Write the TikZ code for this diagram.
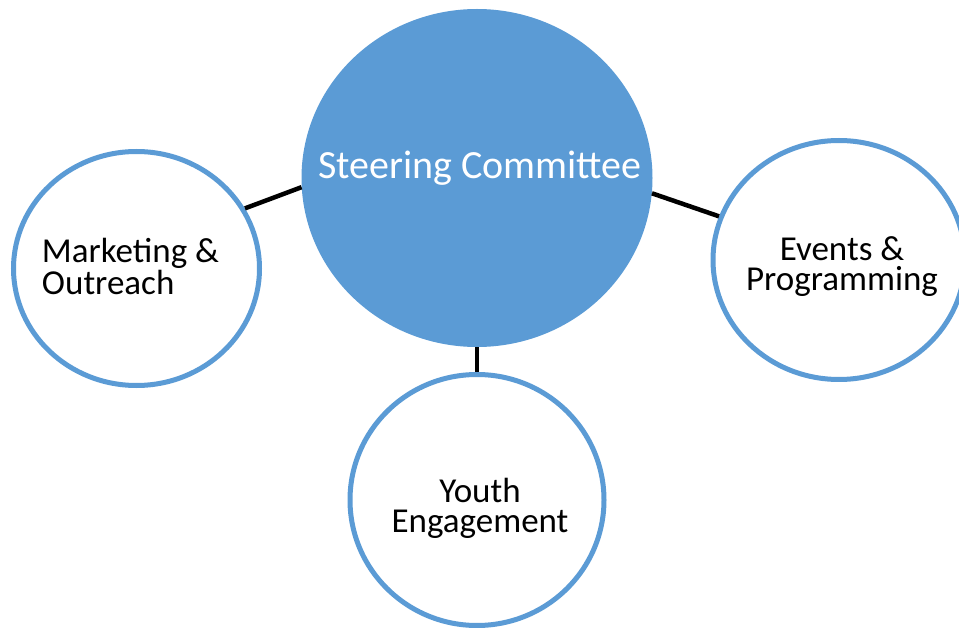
\documentclass[tikz,border=0pt]{standalone}
\usepackage{fontspec}
\setmainfont{Carlito}
\usepackage{tikz}
\usetikzlibrary{shapes.geometric}
\definecolor{smartblue}{HTML}{5B9BD5}

\tikzset{
  team/.style={ellipse,inner sep=0pt,line width=5pt,draw=smartblue,fill=white},
  teamtext/.style={align=center,text=black,font=\fontsize{35}{30}\selectfont},
  link/.style={line width=4.5pt,black}
}

\begin{document}
\begin{tikzpicture}[x=1pt,y=-1pt]
\useasboundingbox (0,0) rectangle (959,628);

\node[ellipse,fill=smartblue,minimum width=351pt,minimum height=338pt,inner sep=0pt,
  label={[text=white,font=\fontsize{40}{40}\selectfont,yshift=10pt,xshift=3pt]center:Steering Committee}]
  (steer) at (477,178) {};

\node[team,minimum width=246pt,minimum height=234pt,
  label={[teamtext,align=left,xshift=-6pt,yshift=2pt]center:Marketing \&\\Outreach}]
  (market) at (136.5,268.5) {};
\node[team,minimum width=252pt,minimum height=239pt,
  label={[teamtext,yshift=-7pt,xshift=3pt]center:Events \&\\Programming}]
  (events) at (839,260) {};
\node[team,minimum width=254pt,minimum height=251pt,
  label={[teamtext,yshift=-8pt,xshift=3pt]center:Youth\\Engagement}]
  (youth) at (477,500) {};

\draw[link] (market.29) -- (steer.183);
\draw[link] (steer.355) -- (events.160);
\draw[link] (steer.south) -- (youth.north);

\end{tikzpicture}
\end{document}
